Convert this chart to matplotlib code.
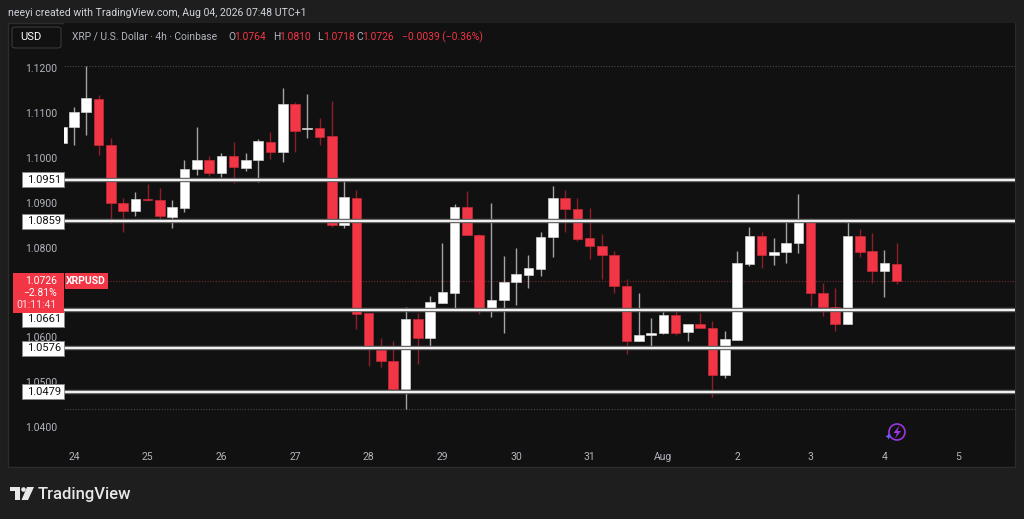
import numpy as np
import matplotlib
matplotlib.use("Agg")
import matplotlib.pyplot as plt
import matplotlib.patches as patches
from matplotlib.transforms import blended_transform_factory

# 4h candles, index 0 = Jul 24 00:00 (index -1 is the clipped one at the left edge)
opens = [1.1034, 1.1068, 1.1101, 1.1130, 1.1029, 1.0900, 1.0882, 1.0908, 1.0905, 1.0868,
         1.0889, 1.0974, 1.0995, 1.0966, 1.1003, 1.0977, 1.0995, 1.1035, 1.1012, 1.1119,
         1.1064, 1.1067, 1.1049, 1.0850, 1.0911, 1.0654, 1.0572, 1.0548, 1.0485, 1.0641,
         1.0598, 1.0676, 1.0700, 1.0890, 1.0827, 1.0666, 1.0683, 1.0724, 1.0740, 1.0752,
         1.0824, 1.0910, 1.0886, 1.0821, 1.0804, 1.0784, 1.0715, 1.0592, 1.0605, 1.0609,
         1.0650, 1.0613, 1.0629, 1.0620, 1.0517, 1.0594, 1.0764, 1.0826, 1.0783, 1.0791,
         1.0810, 1.0858, 1.0698, 1.0667, 1.0629, 1.0826, 1.0792, 1.0748, 1.0764]
highs = [1.1075, 1.1114, 1.1205, 1.1140, 1.1043, 1.0910, 1.0923, 1.0942, 1.0933, 1.0905,
         1.0994, 1.1068, 1.1004, 1.1010, 1.1036, 1.1010, 1.1041, 1.1058, 1.1155, 1.1124,
         1.1141, 1.1088, 1.1127, 1.0949, 1.0928, 1.0654, 1.0599, 1.0591, 1.0667, 1.0655,
         1.0692, 1.0811, 1.0897, 1.0925, 1.0830, 1.0899, 1.0782, 1.0799, 1.0784, 1.0835,
         1.0937, 1.0928, 1.0911, 1.0888, 1.0830, 1.0793, 1.0729, 1.0700, 1.0643, 1.0657,
         1.0661, 1.0629, 1.0655, 1.0637, 1.0614, 1.0793, 1.0847, 1.0834, 1.0821, 1.0858,
         1.0919, 1.0867, 1.0722, 1.0711, 1.0858, 1.0841, 1.0832, 1.0795, 1.0810]
lows = [1.1025, 1.1029, 1.1051, 1.1006, 1.0854, 1.0835, 1.0871, 1.0904, 1.0860, 1.0844,
        1.0880, 1.0962, 1.0960, 1.0958, 1.0943, 1.0971, 1.0947, 1.0997, 1.0990, 1.1014,
        1.1045, 1.1029, 1.0845, 1.0844, 1.0619, 1.0536, 1.0534, 1.0476, 1.0440, 1.0541,
        1.0578, 1.0676, 1.0665, 1.0828, 1.0652, 1.0646, 1.0609, 1.0672, 1.0711, 1.0737,
        1.0780, 1.0835, 1.0815, 1.0774, 1.0729, 1.0700, 1.0562, 1.0591, 1.0579, 1.0608,
        1.0605, 1.0591, 1.0620, 1.0468, 1.0509, 1.0594, 1.0759, 1.0755, 1.0761, 1.0765,
        1.0789, 1.0670, 1.0648, 1.0614, 1.0629, 1.0780, 1.0722, 1.0689, 1.0718]
closes = [1.1069, 1.1101, 1.1133, 1.1029, 1.0899, 1.0882, 1.0908, 1.0905, 1.0870, 1.0890,
          1.0974, 1.0995, 1.0966, 1.1003, 1.0979, 1.0995, 1.1037, 1.1012, 1.1119, 1.1060,
          1.1067, 1.1047, 1.0850, 1.0912, 1.0652, 1.0574, 1.0548, 1.0485, 1.0641, 1.0598,
          1.0678, 1.0701, 1.0890, 1.0828, 1.0665, 1.0683, 1.0724, 1.0741, 1.0754, 1.0824,
          1.0911, 1.0885, 1.0819, 1.0804, 1.0784, 1.0715, 1.0592, 1.0605, 1.0609, 1.0650,
          1.0609, 1.0629, 1.0620, 1.0517, 1.0596, 1.0765, 1.0826, 1.0783, 1.0791, 1.0810,
          1.0858, 1.0700, 1.0668, 1.0630, 1.0826, 1.0791, 1.0748, 1.0765, 1.0726]

levels = [1.0951, 1.0859, 1.0661, 1.0576, 1.0479]
level_label_shift = [0, 0, -0.0020, 0, 0]   # 1.0661 tag is pushed below the price tag
price_ticks = [1.04, 1.05, 1.06, 1.07, 1.08, 1.09, 1.10, 1.11, 1.12]
day_labels = ["24", "25", "26", "27", "28", "29", "30", "31", "Aug", "2", "3", "4", "5"]
last_price = 1.0726

W, H = 1024, 519
def fx(px):
    return px / W
def fy(py):
    return 1 - py / H

RED = "#f23645"
WHITE = "#ffffff"
GRAY = "#b2b5be"
PANEL = "#111111"
font = "Roboto"

fig = plt.figure(figsize=(W / 100, H / 100), dpi=100, facecolor="#1e1e1e")
fig.patches.append(patches.Rectangle((fx(8), fy(467)), fx(1015) - fx(8), fy(23) - fy(467),
                                     transform=fig.transFigure, facecolor=PANEL,
                                     edgecolor="#2c2c2c", lw=1, zorder=-5))

ax = fig.add_axes([fx(64), fy(445), fx(1015) - fx(64), fy(23) - fy(445)])
ax.set_facecolor(PANEL)
for s in ax.spines.values():
    s.set_visible(False)

idx = np.arange(-1, len(opens) - 1)
o = np.array(opens); c = np.array(closes); h = np.array(highs); l = np.array(lows)
up = c >= o
bottom = np.minimum(o, c)
height = np.maximum(np.abs(c - o), 0.00025)

ax.vlines(idx[up], l[up], h[up], color="#a5a5a5", lw=1, zorder=2)
ax.vlines(idx[~up], l[~up], h[~up], color="#8e1d27", lw=1, zorder=2)
ax.bar(idx[up], height[up], 0.78, bottom=bottom[up], color=WHITE, edgecolor="#d0d0d0", lw=0.5, zorder=3)
ax.bar(idx[~up], height[~up], 0.78, bottom=bottom[~up], color=RED, edgecolor="#c92a38", lw=0.5, zorder=3)

ax.set_xlim(-0.814, 76.64)
ax.set_ylim(1.03604, 1.13002)

# horizontal levels
for lv in levels:
    ax.axhline(lv, color="#5a5a5a", lw=3.2, zorder=4)
    ax.axhline(lv, color="#f0f0f0", lw=1.6, zorder=4)
ax.axhline(max(highs), color="#4a4a4a", lw=0.8, ls=(0, (1, 1.5)), zorder=1)
ax.axhline(min(lows), color="#4a4a4a", lw=0.8, ls=(0, (1, 1.5)), zorder=1)
ax.axhline(last_price, xmin=(107 - 64) / 951, color="#7a2a30", lw=0.8, ls=(0, (1, 1.5)), zorder=1)

# ticks
ax.set_yticks(price_ticks)
ax.set_yticklabels([f"{t:.4f}" for t in price_ticks])
ax.set_xticks(np.arange(len(day_labels)) * 6)
ax.set_xticklabels(day_labels)
ax.tick_params(axis="both", length=0, colors=GRAY, labelsize=7.5)
ax.tick_params(axis="y", pad=5)
ax.tick_params(axis="x", pad=5)
for lab in ax.get_xticklabels() + ax.get_yticklabels():
    lab.set_family(font)

bt = blended_transform_factory(ax.transAxes, ax.transData)
def ax_x(px):
    return (px - 64) / 951
ppx = 1 / 4490  # price per pixel

# level tags on the price scale
for lv, sh in zip(levels, level_label_shift):
    yc = lv + sh
    ax.add_patch(patches.Rectangle((ax_x(22), yc - 7.5 * ppx), ax_x(64) - ax_x(22), 15 * ppx,
                                   transform=bt, facecolor=WHITE, edgecolor="#888888", lw=0.6,
                                   clip_on=False, zorder=10))
    ax.text(ax_x(27), yc, f"{lv:.4f}", transform=bt, ha="left", va="center", fontsize=8,
            color="#111111", family=font, clip_on=False, zorder=11)

# current price tag
ax.add_patch(patches.Rectangle((ax_x(13), last_price - 32 * ppx), ax_x(64) - ax_x(13), 40 * ppx,
                               transform=bt, facecolor=RED, edgecolor="none",
                               clip_on=False, zorder=12))
ax.text(ax_x(57), last_price, f"{last_price:.4f}", transform=bt, ha="right", va="center",
        fontsize=7.5, color=WHITE, family=font, clip_on=False, zorder=13)
ax.text(ax_x(57), last_price - 12 * ppx, "\u22122.81%", transform=bt, ha="right", va="center",
        fontsize=7.5, color=WHITE, family=font, clip_on=False, zorder=13)
ax.text(ax_x(57), last_price - 24 * ppx, "01:11:41", transform=bt, ha="right", va="center",
        fontsize=7.5, color="#ffe0e3", family=font, clip_on=False, zorder=13)
ax.add_patch(patches.Rectangle((ax_x(65), last_price - 8 * ppx), ax_x(107.5) - ax_x(65), 16 * ppx,
                               transform=bt, facecolor=RED, edgecolor="none", zorder=12))
ax.text(ax_x(86.3), last_price, "XRPUSD", transform=bt, ha="center", va="center",
        fontsize=7.5, color=WHITE, family=font, fontweight="bold", zorder=13)

# header
fig.text(fx(8), fy(13.5), "neeyi created with TradingView.com, Aug 04, 2026 07:48 UTC+1",
         fontsize=7.6, color="#d1d4dc", family=font, va="center")
fig.patches.append(patches.FancyBboxPatch((fx(12), fy(48)), fx(61) - fx(12), fy(27) - fy(48),
                                          boxstyle="round,pad=0,rounding_size=0.004",
                                          transform=fig.transFigure, facecolor=PANEL,
                                          edgecolor="#3a3a3a", lw=0.8, zorder=2))
fig.text(fx(20), fy(37.5), "USD", fontsize=8, color=WHITE, family=font, va="center")
fig.text(fx(72), fy(37), "XRP / U.S. Dollar \u00b7 4h \u00b7 Coinbase", fontsize=7.4,
         color=GRAY, family=font, va="center")
ohlc = [("O", "1.0764", 228), ("H", "1.0810", 273), ("L", "1.0718", 317), ("C", "1.0726", 356)]
for key, val, px in ohlc:
    fig.text(fx(px), fy(37), key, fontsize=7.4, color=GRAY, family=font, va="center")
    fig.text(fx(px + 6.5), fy(37), val, fontsize=7.4, color=RED, family=font, va="center")
fig.text(fx(402), fy(37), "\u22120.0039 (\u22120.36%)", fontsize=7.4, color=RED, family=font, va="center")

# lightning icon
purple = "#9b36e0"
fig.patches.append(patches.Ellipse((fx(897), fy(432)), width=16 / W, height=16 / H,
                                   transform=fig.transFigure, facecolor="none",
                                   edgecolor=purple, lw=1.2, zorder=5))
bolt = [(899.5, 425.5), (893.5, 433), (897, 433), (895, 438.5), (901, 431), (897.5, 431)]
fig.patches.append(patches.Polygon([(fx(a), fy(b)) for a, b in bolt], closed=True,
                                   transform=fig.transFigure, facecolor=purple, zorder=6))
fig.patches.append(patches.Polygon([(fx(888.5), fy(433.5)), (fx(889.5), fy(435.5)), (fx(891.5), fy(436.5)),
                                    (fx(889.5), fy(437.5)), (fx(888.5), fy(439.5)), (fx(887.5), fy(437.5)),
                                    (fx(885.5), fy(436.5)), (fx(887.5), fy(435.5))], closed=True,
                                   transform=fig.transFigure, facecolor="#6a5cff", zorder=6))

# TradingView logo
logo = "#e8e8e8"
fig.patches.append(patches.Rectangle((fx(10), fy(491)), fx(20) - fx(10), fy(487) - fy(491),
                                     transform=fig.transFigure, facecolor=logo, zorder=5))
fig.patches.append(patches.Rectangle((fx(15), fy(500)), fx(20) - fx(15), fy(487) - fy(500),
                                     transform=fig.transFigure, facecolor=logo, zorder=5))
fig.patches.append(patches.Ellipse((fx(23.5), fy(489.5)), width=4.6 / W, height=4.6 / H,
                                   transform=fig.transFigure, facecolor=logo, zorder=5))
fig.patches.append(patches.Polygon([(fx(27), fy(487)), (fx(34), fy(487)), (fx(28), fy(500)),
                                    (fx(21.5), fy(500))], closed=True, transform=fig.transFigure,
                                   facecolor=logo, zorder=5))
fig.text(fx(38), fy(494), "TradingView", fontsize=12, color=logo, family=font,
         fontweight="medium", va="center")

fig.savefig("out.png", dpi=100, facecolor=fig.get_facecolor())
